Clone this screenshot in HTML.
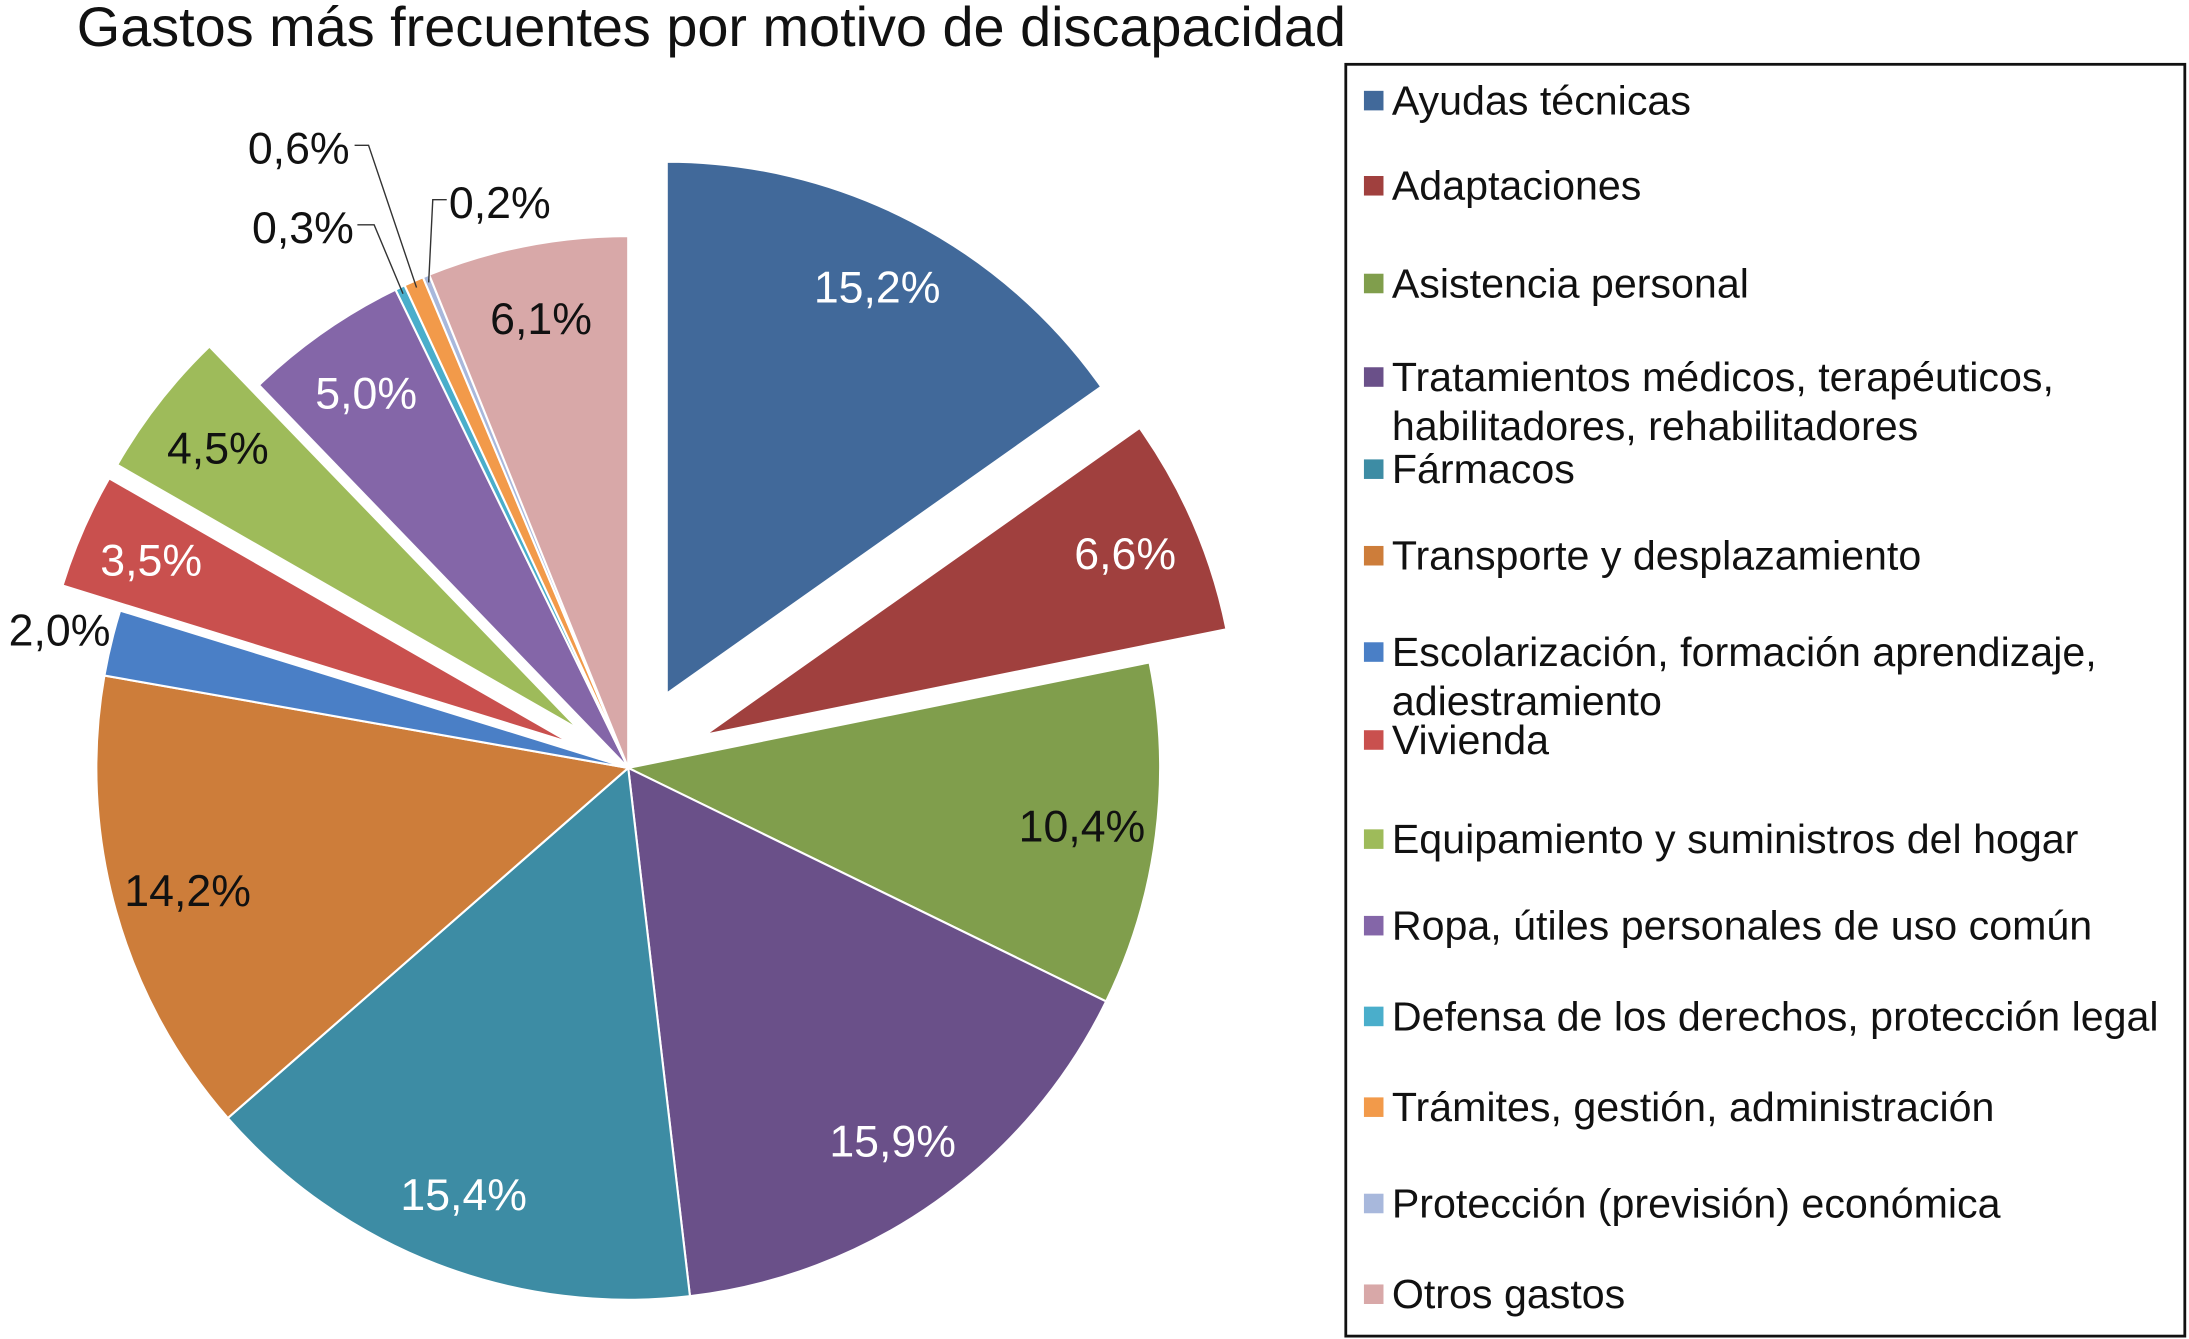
<!DOCTYPE html>
<html><head><meta charset="utf-8"><style>
html,body{margin:0;padding:0;background:#fff;}
svg{display:block;}
text{font-family:"Liberation Sans",Arial,sans-serif;}
</style></head><body>
<svg id="chart" width="2189" height="1339" viewBox="0 0 1568 959" xmlns="http://www.w3.org/2000/svg">
<text x="55" y="33" font-size="40" fill="#111">Gastos más frecuentes por motivo de discapacidad</text>
<g id="slices"></g>
<g id="labels"></g>
<rect x="964" y="46" width="601" height="911" fill="#fff" stroke="#111" stroke-width="2"/>
<g id="legend"></g>
</svg>
<script>
const categories = ["Ayudas técnicas","Adaptaciones","Asistencia personal","Tratamientos médicos, terapéuticos, habilitadores, rehabilitadores","Fármacos","Transporte y desplazamiento","Escolarización, formación aprendizaje, adiestramiento","Vivienda","Equipamiento y suministros del hogar","Ropa, útiles personales de uso común","Defensa de los derechos, protección legal","Trámites, gestión, administración","Protección (previsión) económica","Otros gastos"];
const values = [15.2,6.6,10.4,15.9,15.4,14.2,2.0,3.5,4.5,5.0,0.3,0.6,0.2,6.1];
const valueLabels = ["15,2%","6,6%","10,4%","15,9%","15,4%","14,2%","2,0%","3,5%","4,5%","5,0%","0,3%","0,6%","0,2%","6,1%"];
const exploded = [60,60,0,0,0,0,0,45,45,0,0,0,0,0];
const colors = ["#41699a","#a0403e","#809e4c","#6a5089","#3d8ca4","#cd7d3a","#4a7fc6","#c9504e","#9ebb5a","#8466a8","#4aaecb","#f29a4a","#a8b8dc","#d8a8a8"];
const labelColors = ["#fff","#fff","#111","#fff","#fff","#111","#111","#fff","#111","#fff","#111","#111","#111","#111"];
const legendLines = [[72],[133],[203],[270,305],[336],[398],[467,502],[530],[601],[663],[728],[793],[862],[927]];

const NS="http://www.w3.org/2000/svg";
const cx=450, cy=550, R=381;
const total = values.reduce((a,b)=>a+b,0);
const slicesG=document.getElementById('slices'), labelsG=document.getElementById('labels'), legendG=document.getElementById('legend');
function pt(a,r,ox,oy){return [ox+Math.sin(a)*r, oy-Math.cos(a)*r];}
const leaderLayout = {10:{lx:217,ly:163,sx:256,bend:[268,172]},11:{lx:214,ly:106,sx:254,bend:[264,113]},12:{lx:358,ly:145,sx:320,bend:[310,150]}};
let acc=0;
values.forEach((v,i)=>{
  const a0=acc/total*2*Math.PI, a1=(acc+v)/total*2*Math.PI, am=(a0+a1)/2;
  acc+=v;
  const ox=cx+Math.sin(am)*exploded[i], oy=cy-Math.cos(am)*exploded[i];
  const p0=pt(a0,R,ox,oy), p1=pt(a1,R,ox,oy);
  const large=(a1-a0)>Math.PI?1:0;
  const path=document.createElementNS(NS,'path');
  path.setAttribute('d',`M${ox},${oy} L${p0[0]},${p0[1]} A${R},${R} 0 ${large} 1 ${p1[0]},${p1[1]} Z`);
  path.setAttribute('fill',colors[i]);
  path.setAttribute('stroke','#fff');
  path.setAttribute('stroke-width','1.5');
  
  
  slicesG.appendChild(path);
  const t=document.createElementNS(NS,'text');
  let lx,ly;
  if(leaderLayout[i]){
    const L=leaderLayout[i];
    lx=L.lx; ly=L.ly;
    const e=pt(am,R-5,ox,oy);
    const line=document.createElementNS(NS,'polyline');
    line.setAttribute('points',`${L.sx},${ly-2} ${L.bend[0]},${ly-2} ${e[0]},${e[1]}`);
    line.setAttribute('fill','none');line.setAttribute('stroke','#333');line.setAttribute('stroke-width','1');
    
    
    labelsG.appendChild(line);
  } else {
    const rf = v<3 ? 1.1 : 0.86;
    [lx,ly]=pt(am,R*rf,ox,oy);
  }
  t.setAttribute('x',lx);t.setAttribute('y',ly+11);
  t.setAttribute('text-anchor','middle');t.setAttribute('font-size','32');
  t.setAttribute('fill',labelColors[i]);
  t.textContent=valueLabels[i];
  
  
  labelsG.appendChild(t);
  const ys=legendLines[i];
  const sq=document.createElementNS(NS,'rect');
  sq.setAttribute('x',977);sq.setAttribute('y',ys[0]-7);sq.setAttribute('width',14);sq.setAttribute('height',14);
  sq.setAttribute('fill',colors[i]);
  
  
  legendG.appendChild(sq);
  const lt=document.createElementNS(NS,'text');
  lt.setAttribute('font-size','29.5');lt.setAttribute('fill','#111');
  
  
  if(ys.length===1){
    lt.setAttribute('x',997);lt.setAttribute('y',ys[0]+10);lt.textContent=categories[i];
  } else {
    const words=categories[i];
    const idx = i===3 ? words.indexOf('habilitadores') : words.indexOf('adiestramiento');
    const parts=[words.slice(0,idx).trim(), words.slice(idx)];
    parts.forEach((p,k)=>{const ts=document.createElementNS(NS,'tspan');ts.setAttribute('x',997);ts.setAttribute('y',ys[k]+10);ts.textContent=p;lt.appendChild(ts);});
  }
  legendG.appendChild(lt);
});
</script>
</body></html>
